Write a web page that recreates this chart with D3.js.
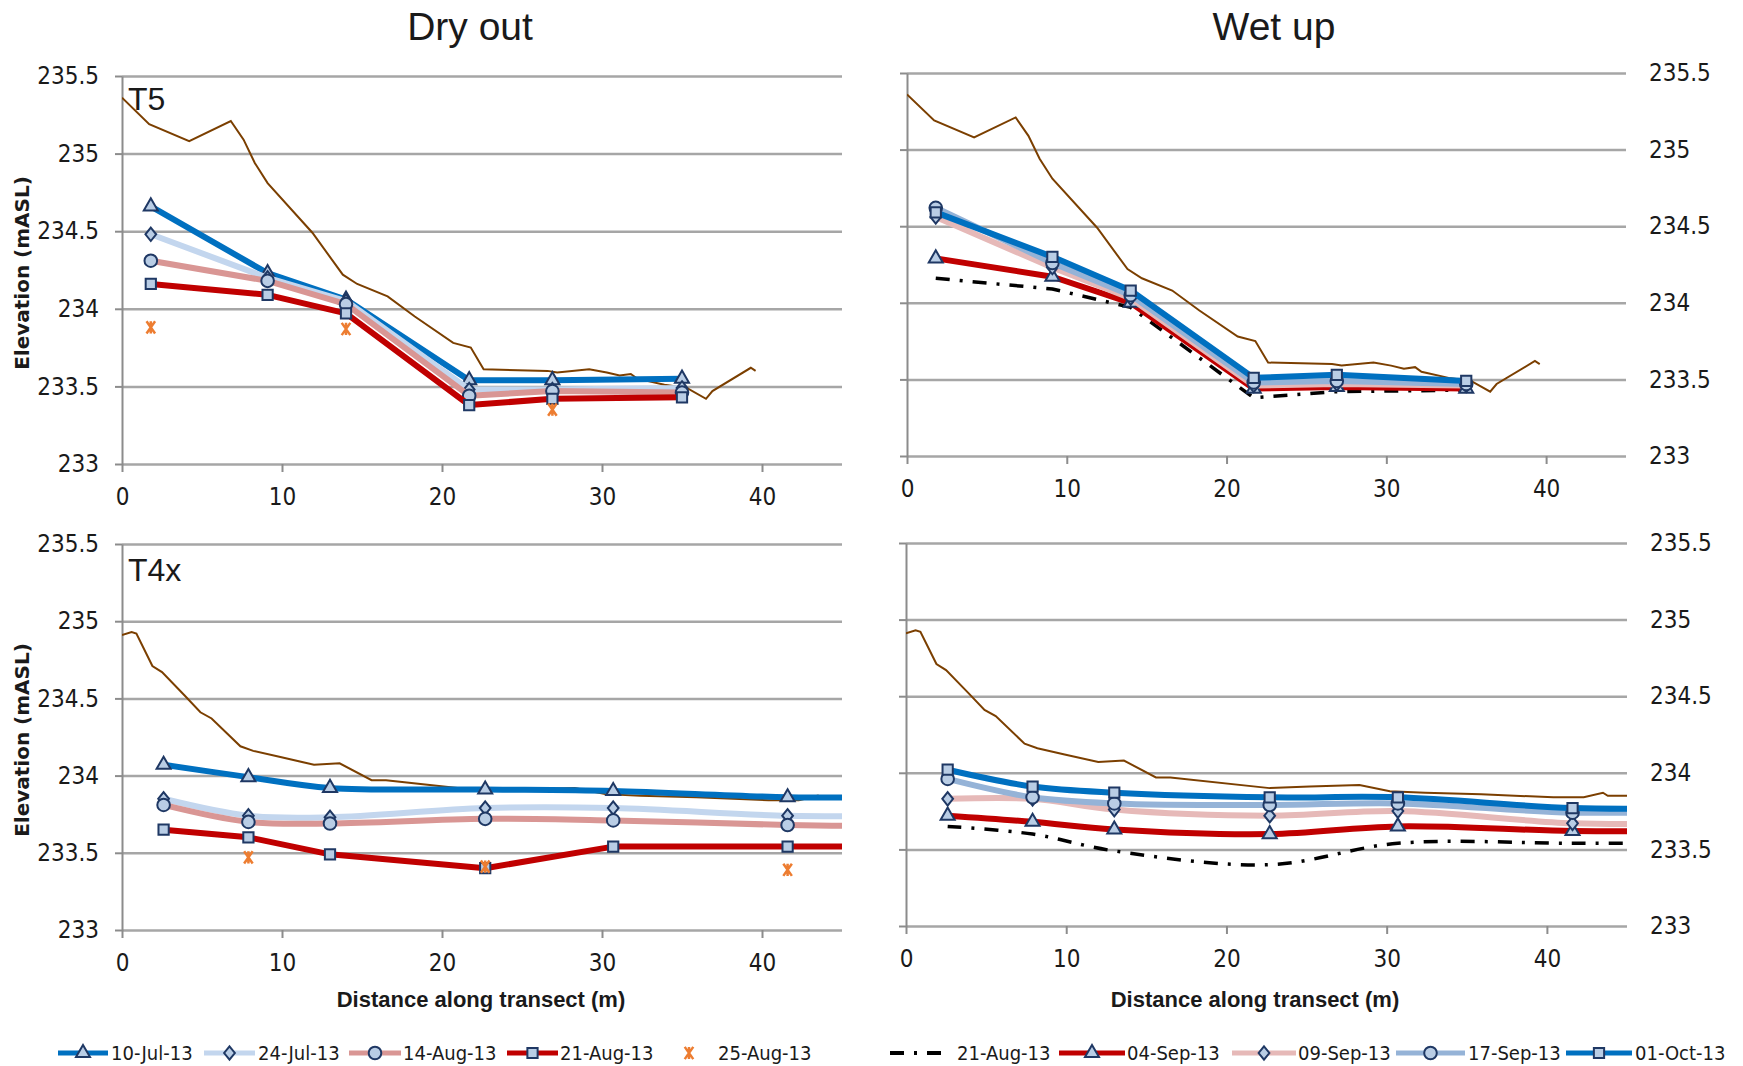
<!DOCTYPE html>
<html>
<head>
<meta charset="utf-8">
<script src="https://cdn.jsdelivr.net/npm/d3@7"></script>
<style>
  body { margin: 0; background: #fff; }
  svg text { font-family: 'Liberation Sans Narrow', 'DejaVu Sans Condensed', 'Liberation Sans', sans-serif; fill: #1a1a1a; }
  .tick text { font-size: 24px; }
  .grid line { stroke: #a6a6a6; stroke-width: 2.5; }
  .axis line, .axis path { stroke: #8c8c8c; stroke-width: 2; }
</style>
</head>
<body>
<svg id="chart"></svg>
<script>
// ---- data ----
const xTicks = [0, 10, 20, 30, 40];
const yTicks = [233, 233.5, 234, 234.5, 235, 235.5];

// well positions along each transect (m)
const t5Dist = [1.8, 9.1, 14.0, 21.7, 26.9, 35.0];
const t4xDist = [2.6, 7.9, 13.0, 22.7, 30.7, 41.6, 49];

// ground surface profiles
const t5GroundDist = [0, 1.7, 4.2, 6.8, 7.6, 8.3, 9.1, 11.9, 13.8, 14.7, 16.6, 18.3, 20.7, 21.8, 22.6, 26.6, 27.2, 29.2, 30.3, 31.1, 31.8, 32.2, 33.9, 35.3, 36.5, 36.9, 39.3, 39.6];
const t5GroundElev = [235.36, 235.19, 235.08, 235.21, 235.09, 234.94, 234.81, 234.49, 234.22, 234.16, 234.08, 233.95, 233.78, 233.75, 233.61, 233.60, 233.59, 233.61, 233.59, 233.57, 233.58, 233.55, 233.51, 233.49, 233.42, 233.47, 233.62, 233.60];
const t4xGroundDist = [0, 0.6, 0.9, 1.9, 2.5, 3.9, 4.9, 5.6, 7.4, 8.2, 9.9, 12.0, 13.6, 15.6, 16.5, 22.7, 25.2, 28.3, 30.2, 32.4, 35.9, 40.4, 42.3, 43.5, 43.8, 45];
const t4xGroundElev = [234.91, 234.93, 234.92, 234.71, 234.67, 234.52, 234.41, 234.37, 234.19, 234.16, 234.12, 234.07, 234.08, 233.97, 233.97, 233.90, 233.91, 233.92, 233.88, 233.87, 233.86, 233.84, 233.84, 233.87, 233.85, 233.85];

// T5 dry out
const t5Dry10Jul = [234.66, 234.23, 234.06, 233.54, 233.54, 233.55];
const t5Dry24Jul = [234.48, 234.20, 234.05, 233.48, 233.48, 233.49];
const t5Dry14Aug = [234.31, 234.18, 234.03, 233.44, 233.47, 233.46];
const t5Dry21Aug = [234.16, 234.09, 233.97, 233.38, 233.42, 233.43];
const t5Dry25AugDist = [1.8, 14.0, 26.9];
const t5Dry25Aug = [233.88, 233.87, 233.35];

// T5 wet up
const t5Wet21Aug = [234.16, 234.09, 233.97, 233.38, 233.42, 233.43];
const t5Wet04Sep = [234.29, 234.17, 234.00, 233.44, 233.45, 233.44];
const t5Wet09Sep = [234.56, 234.23, 234.03, 233.46, 233.47, 233.46];
const t5Wet17Sep = [234.62, 234.26, 234.05, 233.48, 233.49, 233.47];
const t5Wet01Oct = [234.59, 234.30, 234.08, 233.51, 233.53, 233.49];

// T4x dry out
const t4xDry10Jul = [234.07, 233.99, 233.92, 233.91, 233.90, 233.86, 233.86];
const t4xDry24Jul = [233.85, 233.74, 233.73, 233.79, 233.79, 233.74, 233.74];
const t4xDry14Aug = [233.81, 233.70, 233.69, 233.72, 233.71, 233.68, 233.67];
const t4xDry21Aug = [233.65, 233.60, 233.49, 233.40, 233.54, 233.54, 233.54];
const t4xDry25AugDist = [7.9, 22.7, 41.6];
const t4xDry25Aug = [233.47, 233.41, 233.39];

// T4x wet up
const t4xWet21Aug = [233.65, 233.60, 233.49, 233.40, 233.54, 233.54, 233.54];
const t4xWet04Sep = [233.72, 233.68, 233.63, 233.60, 233.65, 233.62, 233.62];
const t4xWet09Sep = [233.83, 233.83, 233.76, 233.72, 233.75, 233.67, 233.67];
const t4xWet17Sep = [233.96, 233.84, 233.80, 233.79, 233.80, 233.74, 233.75];
const t4xWet01Oct = [234.02, 233.91, 233.87, 233.84, 233.84, 233.77, 233.77];

// ---- styles ----
const markerFill = '#b9cde5';
const markerStroke = '#1f3864';

// excel-like star: X with a vertical stroke
const symbolStar = {
  draw(ctx, size) {
    const h = Math.sqrt(size) / 2, w = h * 0.7;
    ctx.moveTo(-w, -h); ctx.lineTo(w, h);
    ctx.moveTo(w, -h); ctx.lineTo(-w, h);
    ctx.moveTo(0, -h); ctx.lineTo(0, h);
  }
};
// wider diamond than d3's default
const symbolDiamond = {
  draw(ctx, size) {
    const h = Math.sqrt(size) / 2, w = h * 0.8;
    ctx.moveTo(0, -h); ctx.lineTo(w, 0); ctx.lineTo(0, h); ctx.lineTo(-w, 0);
    ctx.closePath();
  }
};

const styles = {
  '10-Jul-13': {color: '#0070c0', width: 6, symbol: d3.symbolTriangle, size: 85},
  '24-Jul-13': {color: '#c3d6ee', width: 6, symbol: symbolDiamond, size: 180},
  '14-Aug-13': {color: '#d99694', width: 6, symbol: d3.symbolCircle, size: 125},
  '21-Aug-13': {color: '#c00000', width: 6, symbol: d3.symbolSquare, size: 105},
  '25-Aug-13': {color: '#ed7d31', width: 0, symbol: symbolStar, size: 150},
  'dash': {color: '#000', width: 3.5, dash: '14 10 3 10'},
  '04-Sep-13': {color: '#c00000', width: 6, symbol: d3.symbolTriangle, size: 85},
  '09-Sep-13': {color: '#e6b9b8', width: 6, symbol: symbolDiamond, size: 180},
  '17-Sep-13': {color: '#95b3d7', width: 6, symbol: d3.symbolCircle, size: 125},
  '01-Oct-13': {color: '#0070c0', width: 6, symbol: d3.symbolSquare, size: 105},
  'ground': {color: '#7b3f00', width: 2}
};

const W = 1743, H = 1066;
const svg = d3.select('#chart').attr('width', W).attr('height', H);

const panels = [
  {left: 122, right: 842, top: 76, bottom: 464, labelsRight: false, tag: 'T5', tagY: 110,
   groundX: t5GroundDist, groundY: t5GroundElev,
   series: [
     {key: '10-Jul-13', xs: t5Dist, ys: t5Dry10Jul},
     {key: '24-Jul-13', xs: t5Dist, ys: t5Dry24Jul},
     {key: '14-Aug-13', xs: t5Dist, ys: t5Dry14Aug},
     {key: '21-Aug-13', xs: t5Dist, ys: t5Dry21Aug},
     {key: '25-Aug-13', xs: t5Dry25AugDist, ys: t5Dry25Aug}
   ]},
  {left: 907, right: 1626, top: 73, bottom: 456, labelsRight: true,
   groundX: t5GroundDist, groundY: t5GroundElev,
   series: [
     {key: 'dash', xs: t5Dist, ys: t5Wet21Aug},
     {key: '04-Sep-13', xs: t5Dist, ys: t5Wet04Sep},
     {key: '09-Sep-13', xs: t5Dist, ys: t5Wet09Sep},
     {key: '17-Sep-13', xs: t5Dist, ys: t5Wet17Sep},
     {key: '01-Oct-13', xs: t5Dist, ys: t5Wet01Oct}
   ]},
  {left: 122, right: 842, top: 544, bottom: 930, labelsRight: false, tag: 'T4x', tagY: 581,
   groundX: t4xGroundDist, groundY: t4xGroundElev,
   series: [
     {key: '10-Jul-13', xs: t4xDist, ys: t4xDry10Jul, smooth: true},
     {key: '24-Jul-13', xs: t4xDist, ys: t4xDry24Jul, smooth: true},
     {key: '14-Aug-13', xs: t4xDist, ys: t4xDry14Aug, smooth: true},
     {key: '21-Aug-13', xs: t4xDist, ys: t4xDry21Aug},
     {key: '25-Aug-13', xs: t4xDry25AugDist, ys: t4xDry25Aug}
   ]},
  {left: 906, right: 1627, top: 543, bottom: 926, labelsRight: true,
   groundX: t4xGroundDist, groundY: t4xGroundElev,
   series: [
     {key: 'dash', xs: t4xDist, ys: t4xWet21Aug, smooth: true},
     {key: '04-Sep-13', xs: t4xDist, ys: t4xWet04Sep, smooth: true},
     {key: '09-Sep-13', xs: t4xDist, ys: t4xWet09Sep, smooth: true},
     {key: '17-Sep-13', xs: t4xDist, ys: t4xWet17Sep, smooth: true},
     {key: '01-Oct-13', xs: t4xDist, ys: t4xWet01Oct, smooth: true}
   ]}
];

function drawMarker(sel, st, px, py) {
  const m = sel.append('path')
    .attr('transform', `translate(${px},${py})`)
    .attr('d', d3.symbol(st.symbol, st.size)());
  if (st.symbol === symbolStar) {
    m.attr('fill', 'none').attr('stroke', st.color).attr('stroke-width', 2.5);
  } else {
    m.attr('fill', markerFill).attr('stroke', markerStroke).attr('stroke-width', 2);
  }
}

panels.forEach((p, i) => {
  const x = d3.scaleLinear().domain([0, 45]).range([p.left, p.right]);
  const y = d3.scaleLinear().domain([233, 235.5]).range([p.bottom, p.top]);
  const g = svg.append('g');

  g.append('defs').append('clipPath').attr('id', 'clip' + i)
    .append('rect')
    .attr('x', p.left).attr('y', p.top - 20)
    .attr('width', p.right - p.left).attr('height', p.bottom - p.top + 40);

  // gridlines
  g.append('g').attr('class', 'grid')
    .attr('transform', `translate(${p.left},0)`)
    .call(d3.axisLeft(y).tickValues(yTicks).tickSize(-(p.right - p.left)).tickFormat(''))
    .call(a => a.select('.domain').remove());

  // y axis (ticks outward, labels left or right)
  g.append('g').attr('class', 'axis')
    .attr('transform', `translate(${p.left},0)`)
    .call(d3.axisLeft(y).tickValues(yTicks).tickSize(7).tickSizeOuter(0).tickPadding(16)
      .tickFormat(p.labelsRight ? '' : d => d));
  if (p.labelsRight) {
    g.append('g').attr('class', 'axis')
      .attr('transform', `translate(${p.right},0)`)
      .call(d3.axisRight(y).tickValues(yTicks).tickSize(0).tickPadding(23).tickFormat(d => d))
      .call(a => a.select('.domain').remove());
  }

  // x axis
  g.append('g').attr('class', 'axis')
    .attr('transform', `translate(0,${p.bottom})`)
    .call(d3.axisBottom(x).tickValues(xTicks).tickSize(8).tickPadding(16).tickSizeOuter(0))
    .call(a => a.select('.domain').remove());

  const plot = g.append('g').attr('clip-path', `url(#clip${i})`);

  // ground surface
  const ground = p.groundX.map((d, j) => [d, p.groundY[j]]);
  plot.append('path')
    .datum(ground)
    .attr('fill', 'none')
    .attr('stroke', styles.ground.color)
    .attr('stroke-width', styles.ground.width)
    .attr('d', d3.line().x(d => x(d[0])).y(d => y(d[1])));

  p.series.forEach(s => {
    const st = styles[s.key];
    const pts = s.xs.map((d, j) => [d, s.ys[j]]);
    if (st.width > 0) {
      const line = d3.line().x(d => x(d[0])).y(d => y(d[1]))
        .curve(s.smooth ? d3.curveCatmullRom.alpha(0.5) : d3.curveLinear);
      plot.append('path')
        .datum(pts)
        .attr('fill', 'none')
        .attr('stroke', st.color)
        .attr('stroke-width', st.width)
        .attr('stroke-linejoin', 'round')
        .attr('stroke-dasharray', st.dash || null)
        .attr('d', line);
    }
    if (st.symbol) {
      pts.forEach(d => drawMarker(plot, st, x(d[0]), y(d[1])));
    }
  });

  if (p.tag) {
    g.append('text')
      .attr('x', p.left + 6).attr('y', p.tagY)
      .style('font-family', "'Liberation Sans', Arial, sans-serif")
      .style('font-size', '32px')
      .text(p.tag);
  }

  // y label
  if (!p.labelsRight) {
    g.append('text')
      .attr('transform', `translate(29,${(p.top + p.bottom) / 2 + 3}) rotate(-90)`)
      .attr('text-anchor', 'middle')
      .style('font-family', "'DejaVu Sans', sans-serif")
      .style('font-weight', 'bold')
      .style('font-size', '20px')
      .text('Elevation (mASL)');
  }
});

// titles and x labels
[['Dry out', 470], ['Wet up', 1274]].forEach(([t, cx]) => {
  svg.append('text')
    .attr('x', cx).attr('y', 40)
    .attr('text-anchor', 'middle')
    .style('font-family', "'Liberation Sans', Arial, sans-serif")
    .style('font-size', '39px')
    .text(t);
});
[481, 1255].forEach(cx => {
  svg.append('text')
    .attr('x', cx).attr('y', 1007)
    .attr('text-anchor', 'middle')
    .style('font-family', "'Liberation Sans', Arial, sans-serif")
    .style('font-weight', 'bold')
    .style('font-size', '22px')
    .text('Distance along transect (m)');
});

// legends
const legendY = 1053;
const legendItems = [
  {key: '10-Jul-13', x0: 58, x1: 108, tx: 111},
  {key: '24-Jul-13', x0: 204, x1: 255, tx: 258},
  {key: '14-Aug-13', x0: 349, x1: 401, tx: 403},
  {key: '21-Aug-13', x0: 507, x1: 558, tx: 560},
  {key: '25-Aug-13', x0: 689, x1: 689, tx: 718},
  {key: 'dash', label: '21-Aug-13', x0: 890, x1: 943, tx: 957},
  {key: '04-Sep-13', x0: 1059, x1: 1125, tx: 1127},
  {key: '09-Sep-13', x0: 1232, x1: 1296, tx: 1298},
  {key: '17-Sep-13', x0: 1396, x1: 1465, tx: 1468},
  {key: '01-Oct-13', x0: 1566, x1: 1632, tx: 1635}
];
const lg = svg.append('g');
legendItems.forEach(it => {
  const st = styles[it.key];
  if (st.width > 0) {
    lg.append('line')
      .attr('x1', it.x0).attr('x2', it.x1)
      .attr('y1', legendY).attr('y2', legendY)
      .attr('stroke', st.color)
      .attr('stroke-width', st.dash ? 4 : 5)
      .attr('stroke-dasharray', st.dash || null);
  }
  if (st.symbol) drawMarker(lg, st, (it.x0 + it.x1) / 2, legendY);
  lg.append('text')
    .attr('x', it.tx).attr('y', legendY)
    .attr('dy', '0.35em')
    .style('font-size', '20px')
    .text(it.label || it.key);
});
</script>
</body>
</html>
